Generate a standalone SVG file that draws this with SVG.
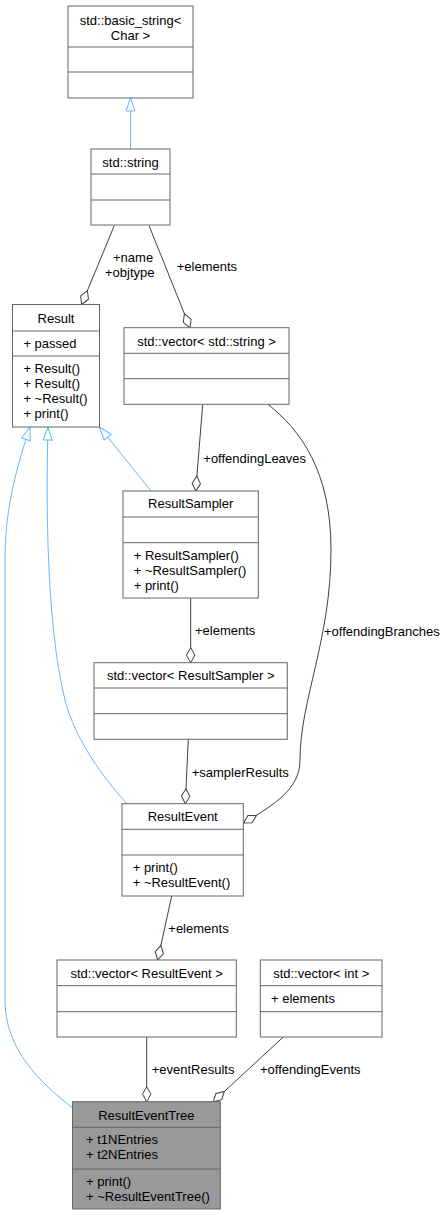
<svg xmlns="http://www.w3.org/2000/svg" width="445" height="1215" viewBox="0 0 445 1215">
<style>
text{font-family:"Liberation Sans",Arial,Helvetica,sans-serif;font-size:13px;fill:#000}
.c{text-anchor:middle}
.box{fill:#fff;stroke:#666;stroke-width:1}
.cur{fill:#999;stroke:#666;stroke-width:1}
.sep{stroke:#666;stroke-width:1}
.use{fill:none;stroke:#404040;stroke-width:1}
.inh{fill:none;stroke:#63b8ff;stroke-width:1}
</style>
<defs>
<marker id="dia" viewBox="-17 -6 18 12" refX="0" refY="0" markerWidth="18" markerHeight="12" orient="auto" markerUnits="userSpaceOnUse" overflow="visible">
<path d="M0,0 L-7.5,-4.2 L-15,0 L-7.5,4.2 Z" fill="#fff" stroke="#404040"/>
</marker>
<marker id="tri" viewBox="-15 -6 16 12" refX="0" refY="0" markerWidth="16" markerHeight="12" orient="auto" markerUnits="userSpaceOnUse" overflow="visible">
<path d="M0,0 L-13,-4.5 L-13,4.5 Z" fill="#fff" stroke="#63b8ff"/>
</marker>
</defs>
<rect width="445" height="1215" fill="#fff"/>

<g id="edges">
<path class="inh" d="M130.5,149 L130.5,98" marker-end="url(#tri)"/>
<path class="inh" d="M151,491 L99.5,427" marker-end="url(#tri)"/>
<path class="inh" d="M127,803.7 C105,780 75,740 65,700 C50,640 45,540 48,427" marker-end="url(#tri)"/>
<path class="inh" d="M72.5,1108 C40,1082 5,1050 5,1000 L5,560 C5,515 13,478 30,427" marker-end="url(#tri)"/>
<path class="use" d="M114.3,225.5 L81.7,304.5" marker-end="url(#dia)"/>
<path class="use" d="M149,225.5 L190,327.7" marker-end="url(#dia)"/>
<path class="use" d="M202.7,404.3 L195.7,491" marker-end="url(#dia)"/>
<path class="use" d="M190.7,598 L190.7,662.7" marker-end="url(#dia)"/>
<path class="use" d="M188.3,739.3 L185.3,803.7" marker-end="url(#dia)"/>
<path class="use" d="M268,404.3 C300,430 331,470 331,550 C331,640 300,700 300,760 C300,788 276,804 243.5,823" marker-end="url(#dia)"/>
<path class="use" d="M171.7,896 L157.7,960" marker-end="url(#dia)"/>
<path class="use" d="M146.7,1037 L146.7,1101.7" marker-end="url(#dia)"/>
<path class="use" d="M283.3,1037 L213.3,1101.7" marker-end="url(#dia)"/>
<text x="113" y="262.3">+name</text>
<text x="105" y="277">+objtype</text>
<text x="176.7" y="270.7">+elements</text>
<text x="203.3" y="463.3">+offendingLeaves</text>
<text x="195" y="635">+elements</text>
<text x="324" y="635.7">+offendingBranches</text>
<text x="191.7" y="776.7">+samplerResults</text>
<text x="168.3" y="932.7">+elements</text>
<text x="151.7" y="1074.3">+eventResults</text>
<text x="260" y="1074.3">+offendingEvents</text>
</g>

<g id="basic_string">
<rect class="box" x="68" y="6" width="125" height="92"/>
<line class="sep" x1="68" y1="47" x2="193" y2="47"/>
<line class="sep" x1="68" y1="72" x2="193" y2="72"/>
<text class="c" x="130.5" y="24.5">std::basic_string&lt;</text>
<text class="c" x="130.5" y="39.5">Char &gt;</text>
</g>

<g id="std_string">
<rect class="box" x="91" y="149" width="79" height="76"/>
<line class="sep" x1="91" y1="174" x2="170" y2="174"/>
<line class="sep" x1="91" y1="200" x2="170" y2="200"/>
<text class="c" x="130.5" y="167">std::string</text>
</g>

<g id="Result">
<rect class="box" x="12.5" y="304.5" width="87" height="122.5"/>
<line class="sep" x1="12.5" y1="331" x2="99.5" y2="331"/>
<line class="sep" x1="12.5" y1="356" x2="99.5" y2="356"/>
<text class="c" x="56" y="323">Result</text>
<text x="23.4" y="348">+ passed</text>
<text x="23.4" y="373">+ Result()</text>
<text x="23.4" y="388">+ Result()</text>
<text x="23.4" y="403">+ ~Result()</text>
<text x="23.4" y="418">+ print()</text>
</g>

<g id="vector_string">
<rect class="box" x="124" y="327.7" width="165" height="76.6"/>
<line class="sep" x1="124" y1="353.3" x2="289" y2="353.3"/>
<line class="sep" x1="124" y1="378.7" x2="289" y2="378.7"/>
<text class="c" x="206.5" y="345.5">std::vector&lt; std::string &gt;</text>
</g>

<g id="ResultSampler">
<rect class="box" x="123" y="491" width="135.3" height="107"/>
<line class="sep" x1="123" y1="517" x2="258.3" y2="517"/>
<line class="sep" x1="123" y1="542.7" x2="258.3" y2="542.7"/>
<text class="c" x="190.7" y="508.3">ResultSampler</text>
<text x="133.7" y="560">+ ResultSampler()</text>
<text x="133.7" y="575">+ ~ResultSampler()</text>
<text x="133.7" y="590">+ print()</text>
</g>

<g id="vector_ResultSampler">
<rect class="box" x="94" y="662.7" width="193.3" height="76.6"/>
<line class="sep" x1="94" y1="688" x2="287.3" y2="688"/>
<line class="sep" x1="94" y1="713.7" x2="287.3" y2="713.7"/>
<text class="c" x="190.7" y="680">std::vector&lt; ResultSampler &gt;</text>
</g>

<g id="ResultEvent">
<rect class="box" x="122" y="803.7" width="121.3" height="92.3"/>
<line class="sep" x1="122" y1="829.3" x2="243.3" y2="829.3"/>
<line class="sep" x1="122" y1="855" x2="243.3" y2="855"/>
<text class="c" x="182.7" y="821">ResultEvent</text>
<text x="132.7" y="871.7">+ print()</text>
<text x="132.7" y="886.7">+ ~ResultEvent()</text>
</g>

<g id="vector_ResultEvent">
<rect class="box" x="57" y="960" width="179.3" height="77"/>
<line class="sep" x1="57" y1="985.7" x2="236.3" y2="985.7"/>
<line class="sep" x1="57" y1="1011.7" x2="236.3" y2="1011.7"/>
<text class="c" x="146.7" y="977.7">std::vector&lt; ResultEvent &gt;</text>
</g>

<g id="vector_int">
<rect class="box" x="260.3" y="960" width="121.7" height="77"/>
<line class="sep" x1="260.3" y1="985.7" x2="382" y2="985.7"/>
<line class="sep" x1="260.3" y1="1011.7" x2="382" y2="1011.7"/>
<text class="c" x="321.2" y="977.7">std::vector&lt; int &gt;</text>
<text x="271" y="1003.3">+ elements</text>
</g>

<g id="ResultEventTree">
<rect class="cur" x="72.5" y="1101.7" width="147.8" height="107.3"/>
<line class="sep" x1="72.5" y1="1127.3" x2="220.3" y2="1127.3"/>
<line class="sep" x1="72.5" y1="1169" x2="220.3" y2="1169"/>
<text class="c" x="146.4" y="1120">ResultEventTree</text>
<text x="86" y="1143.5">+ t1NEntries</text>
<text x="86" y="1158.5">+ t2NEntries</text>
<text x="86" y="1186">+ print()</text>
<text x="86" y="1201">+ ~ResultEventTree()</text>
</g>
</svg>
